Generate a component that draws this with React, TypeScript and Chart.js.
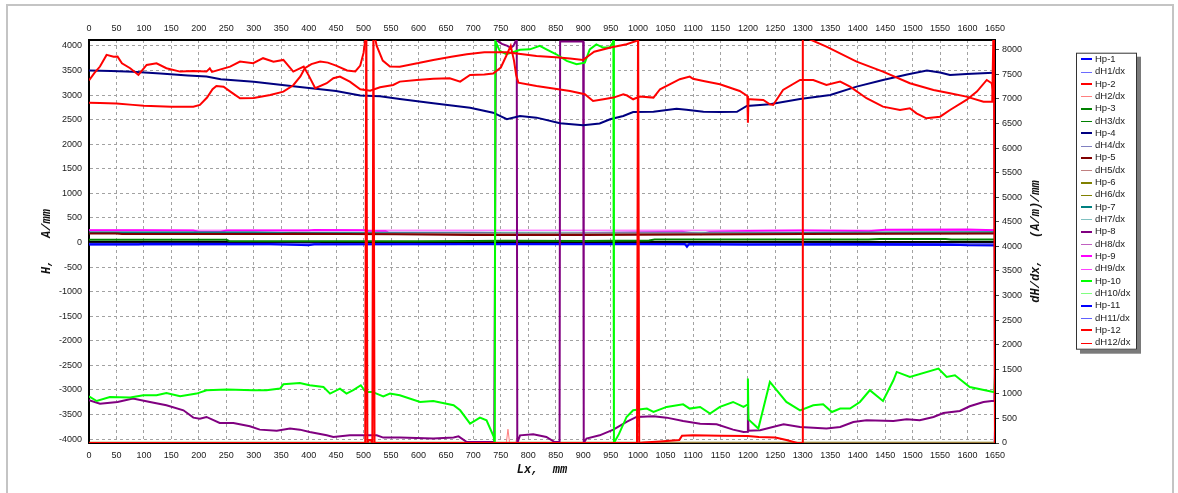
import React, { useEffect, useRef } from 'react';
import { Chart, registerables } from 'chart.js';

Chart.register(...registerables);

type P = [number, number][];

// ---- tick labels ----
const X_TICKS = [0, 50, 100, 150, 200, 250, 300, 350, 400, 450, 500, 550, 600, 650, 700, 750, 800, 850, 900, 950, 1000, 1050, 1100, 1150, 1200, 1250, 1300, 1350, 1400, 1450, 1500, 1550, 1600, 1650];
const H_TICKS = [-4000, -3500, -3000, -2500, -2000, -1500, -1000, -500, 0, 500, 1000, 1500, 2000, 2500, 3000, 3500, 4000];
const DH_TICKS = [0, 500, 1000, 1500, 2000, 2500, 3000, 3500, 4000, 4500, 5000, 5500, 6000, 6500, 7000, 7500, 8000];

const X_TITLE = 'Lx,  mm';
const H_TITLE = 'H,   A/mm';
const DH_TITLE = 'dH/dx,   (A/m)/mm';

// ---- series values [Lx mm, value] ----
const hp1: P = [[0, -35], [90, -35], [100, -25], [330, -30], [400, -55], [410, -35], [700, -30], [1085, -30], [1089, -90], [1093, -30], [1200, -40], [1400, -30], [1560, -40], [1600, -55], [1650, -60]];
const dh1: P = [[0, 4062], [420, 4062], [430, 4050], [800, 4060], [1650, 4060]];
const hp2: P = [[0, 3300], [10, 3450], [20, 3580], [32, 3817], [45, 3780], [52, 3782], [60, 3647], [75, 3546], [90, 3409], [105, 3613], [123, 3647], [141, 3546], [166, 3477], [190, 3490], [214, 3477], [220, 3545], [224, 3470], [257, 3579], [275, 3680], [299, 3647], [317, 3750], [336, 3680], [354, 3715], [372, 3477], [391, 3580], [400, 3400], [412, 3138], [433, 3240], [445, 3342], [457, 3375], [475, 3273], [494, 3118], [512, 3090], [530, 3159], [554, 3205], [566, 3273], [597, 3306], [627, 3330], [657, 3342], [676, 3273], [694, 3409], [720, 3420], [736, 3440], [750, 3560], [760, 3800], [768, 4000], [774, 3700], [778, 3400], [782, 3253], [815, 3185], [876, 3083], [903, 3016], [918, 2880], [937, 2914], [955, 2948], [973, 3016], [980, 2990], [991, 2914], [1003, 2968], [1028, 2948], [1040, 3118], [1076, 3322], [1094, 3375], [1100, 3330], [1119, 3287], [1149, 3220], [1185, 3083], [1199, 2981], [1200, 2438], [1201, 2914], [1204, 2914], [1228, 2900], [1240, 2812], [1246, 2798], [1264, 3104], [1295, 3307], [1319, 3307], [1343, 3206], [1368, 3273], [1386, 3171], [1416, 2935], [1446, 2764], [1477, 2696], [1495, 2731], [1507, 2629], [1525, 2527], [1550, 2560], [1568, 2696], [1598, 2900], [1617, 3069], [1635, 3307], [1644, 3240], [1650, 2850]];
const dh2: P = [[0, 0], [760, 0], [763, 280], [766, 0], [777, 0], [779, 100], [781, 0], [1650, 0]];
const hp3: P = [[0, 55], [250, 55], [255, 30], [600, 25], [700, 30], [760, 35], [900, 30], [1020, 40], [1030, 60], [1420, 60], [1440, 70], [1560, 70], [1570, 60], [1650, 60]];
const dh3: P = [[0, 0], [1650, 0]];
const hp4: P = [[0, 3500], [40, 3490], [80, 3476], [130, 3440], [180, 3400], [214, 3375], [240, 3320], [300, 3270], [384, 3165], [450, 3080], [494, 2990], [530, 2975], [566, 2920], [627, 2833], [694, 2743], [736, 2641], [761, 2507], [785, 2574], [815, 2540], [858, 2425], [900, 2385], [930, 2420], [949, 2507], [973, 2574], [991, 2655], [1028, 2660], [1070, 2723], [1088, 2700], [1119, 2660], [1149, 2655], [1180, 2660], [1198, 2778], [1240, 2812], [1295, 2920], [1350, 3002], [1398, 3171], [1446, 3307], [1490, 3420], [1526, 3497], [1550, 3460], [1568, 3409], [1598, 3430], [1647, 3456], [1649, 3456], [1650, -4080]];
const dh4: P = [[0, 4048], [1650, 4048]];
const hp5: P = [[0, 185], [50, 185], [60, 175], [350, 175], [370, 180], [560, 165], [700, 150], [900, 150], [1100, 160], [1300, 175], [1650, 185]];
const dh5: P = [[0, 4262], [1650, 4270]];
const hp6: P = [[0, -4075], [1650, -4075]];
const dh6: P = [[0, 4046], [1650, 4046]];
const hp7: P = [[0, 205], [300, 205], [350, 195], [550, 190], [750, 185], [900, 180], [1100, 185], [1300, 195], [1500, 205], [1650, 210]];
const dh7: P = [[0, 4290], [1650, 4290]];
const hp8: P = [[0, -3211], [20, -3279], [52, -3245], [80, -3177], [111, -3245], [141, -3313], [172, -3415], [190, -3564], [202, -3584], [214, -3550], [238, -3673], [263, -3673], [293, -3740], [311, -3808], [342, -3830], [366, -3787], [384, -3808], [402, -3856], [433, -3924], [445, -3958], [475, -3924], [524, -3924], [536, -3970], [566, -3970], [627, -3990], [664, -3970], [673, -3945], [688, -4060], [738, -4060], [741, 4120], [752, 4040], [762, 4000], [768, 3960], [773, 4000], [777, 4100], [779, 4120], [780, -4080], [785, -3924], [809, -3903], [833, -3958], [848, -4060], [857, -4060], [858, 4090], [900, 4090], [901, -4080], [906, -3990], [930, -3924], [955, -3808], [979, -3652], [997, -3550], [1028, -3537], [1052, -3564], [1082, -3632], [1113, -3686], [1143, -3700], [1173, -3808], [1192, -3856], [1199, -3850], [1200, -3350], [1201, -3830], [1222, -3822], [1265, -3700], [1295, -3755], [1343, -3787], [1368, -3755], [1392, -3652], [1416, -3618], [1465, -3632], [1489, -3598], [1513, -3618], [1538, -3550], [1556, -3470], [1586, -3429], [1604, -3333], [1629, -3245], [1644, -3225], [1649, -3225], [1650, -2650]];
const dh8: P = [[0, 0], [1648, 0], [1650, 500]];
const hp9: P = [[0, 250], [100, 250], [190, 245], [200, 215], [240, 215], [250, 245], [400, 245], [410, 255], [505, 250], [510, 230], [540, 230], [545, 205], [700, 200], [740, 195], [745, 175], [800, 170], [850, 175], [900, 190], [950, 200], [1000, 210], [1080, 220], [1100, 190], [1115, 170], [1130, 215], [1200, 235], [1300, 245], [1400, 235], [1420, 230], [1450, 260], [1600, 265], [1650, 250]];
const dh9: P = [[0, 4330], [1650, 4330]];
const hp10: P = [[0, -3130], [14, -3225], [38, -3144], [75, -3156], [99, -3110], [123, -3110], [141, -3062], [166, -3130], [196, -3075], [214, -3007], [251, -2993], [299, -3007], [323, -3007], [348, -2973], [354, -2885], [384, -2858], [402, -2905], [427, -2940], [439, -3075], [457, -2973], [469, -3075], [482, -3000], [495, -2905], [504, -3041], [516, -3041], [536, -3130], [548, -3075], [566, -3110], [603, -3245], [627, -3225], [664, -3313], [676, -3415], [694, -3686], [712, -3564], [724, -3618], [737, -3950], [739, -4080], [740, 4100], [748, 3900], [760, 3830], [772, 3870], [785, 3920], [803, 3930], [821, 4000], [833, 3930], [851, 3830], [870, 3695], [888, 3627], [903, 3660], [912, 3930], [924, 4030], [936, 3966], [948, 3966], [954, 4070], [955, 4120], [956, -4080], [965, -3900], [979, -3550], [991, -3415], [1016, -3380], [1028, -3448], [1052, -3346], [1082, -3293], [1094, -3380], [1113, -3346], [1131, -3482], [1149, -3346], [1173, -3245], [1192, -3346], [1199, -3300], [1200, -2770], [1201, -3600], [1219, -3787], [1240, -2837], [1270, -3245], [1295, -3415], [1319, -3313], [1337, -3293], [1353, -3450], [1368, -3380], [1386, -3380], [1404, -3245], [1422, -3007], [1446, -3225], [1465, -2804], [1471, -2634], [1495, -2736], [1547, -2566], [1562, -2736], [1577, -2702], [1604, -2940], [1647, -3041], [1649, -3041], [1650, -2750]];
const dh10: P = [[0, 0], [1650, 0]];
const hp11: P = [[0, -40], [500, -35], [1000, -35], [1650, -50]];
const dh11: P = [[0, 4042], [1650, 4040]];
const hp12: P = [[0, 2845], [20, 2840], [50, 2830], [80, 2800], [100, 2780], [150, 2760], [190, 2764], [202, 2800], [215, 2950], [225, 3120], [232, 3185], [245, 3170], [260, 3050], [275, 2935], [300, 2940], [330, 3000], [354, 3069], [372, 3200], [385, 3380], [393, 3546], [405, 3630], [421, 3680], [435, 3660], [450, 3600], [470, 3500], [485, 3480], [494, 3600], [500, 3857], [504, 4200], [520, 4200], [524, 4000], [535, 3700], [548, 3580], [566, 3578], [600, 3650], [627, 3715], [660, 3780], [688, 3830], [720, 3870], [760, 3870], [790, 3830], [815, 3796], [850, 3770], [876, 3742], [900, 3715], [910, 3800], [920, 3880], [950, 3966], [979, 4034], [997, 4100], [1003, 4200]];
const dh12: P = [[0, 0], [503, 0], [505, 9000], [507, 0], [510, 60], [513, 60], [516, 0], [518, 9000], [520, 0], [998, 0], [1000, 9000], [1002, 0], [1010, 10], [1040, 30], [1075, 60], [1080, 150], [1100, 160], [1150, 150], [1200, 140], [1220, 120], [1250, 110], [1270, 60], [1290, 0], [1299, 0], [1300, 9000], [1305, 8250], [1343, 8066], [1398, 7760], [1446, 7557], [1495, 7320], [1538, 7184], [1568, 7117], [1598, 7048], [1629, 6946], [1645, 6946], [1648, 9000], [1650, 0]];

// ---- dataset table (label, colour, data, axis, width, order) ----
const SERIES: [string, string, P, string, number, number][] = [
  ['Hp-1', '#0000ff', hp1, 'y', 2, 0],
  ['dH1/dx', '#6b6bff', dh1, 'y2', 1, 0],
  ['Hp-2', '#ff0000', hp2, 'y', 2, -2],
  ['dH2/dx', '#ff7f7f', dh2, 'y2', 1, 0],
  ['Hp-3', '#008000', hp3, 'y', 2, 0],
  ['dH3/dx', '#008000', dh3, 'y2', 1, 0],
  ['Hp-4', '#000080', hp4, 'y', 2, -1],
  ['dH4/dx', '#8080c0', dh4, 'y2', 1, 0],
  ['Hp-5', '#800000', hp5, 'y', 2, 0],
  ['dH5/dx', '#c08080', dh5, 'y2', 1, 0],
  ['Hp-6', '#808000', hp6, 'y', 2, 0],
  ['dH6/dx', '#808000', dh6, 'y2', 1, 0],
  ['Hp-7', '#008080', hp7, 'y', 2, 0],
  ['dH7/dx', '#80c0c0', dh7, 'y2', 1, 0],
  ['Hp-8', '#800080', hp8, 'y', 2, -1],
  ['dH8/dx', '#c060c0', dh8, 'y2', 1, 0],
  ['Hp-9', '#ff00ff', hp9, 'y', 2, 0],
  ['dH9/dx', '#ff40ff', dh9, 'y2', 1, 0],
  ['Hp-10', '#00ff00', hp10, 'y', 2, -1.5],
  ['dH10/dx', '#80ff80', dh10, 'y2', 1, 0],
  ['Hp-11', '#0000ff', hp11, 'y', 2, 0],
  ['dH11/dx', '#6060ff', dh11, 'y2', 1, 0],
  ['Hp-12', '#ff0000', hp12, 'y', 2, -2],
  ['dH12/dx', '#ff0000', dh12, 'y2', 2, -3],
];

// canvas sits at page (8,6)
const OX = 8;
const OY = 6;
const TICK_FONT = { family: '"Liberation Sans", Arial, sans-serif', size: 9 };
const TITLE_FONT = { family: '"Liberation Mono", "Courier New", monospace', size: 12, weight: 'bold' as const, style: 'italic' as const };
const GRID_GREY = '#a2a2a2';
const GRID_DASH = [3, 3];

const setTicks = (arr: number[]) => (s: any) => {
  s.ticks = arr.map((v) => ({ value: v }));
};

const overlay = {
  id: 'overlay',
  afterDraw(chart: any) {
    const ctx: CanvasRenderingContext2D = chart.ctx;
    const a = chart.chartArea;
    // right axis title (reads bottom-to-top)
    ctx.save();
    ctx.translate(1036 - OX, (a.top + a.bottom) / 2);
    ctx.rotate(-Math.PI / 2);
    ctx.font = 'italic bold 12px "Liberation Mono", "Courier New", monospace';
    ctx.fillStyle = '#111';
    ctx.textAlign = 'center';
    ctx.textBaseline = 'middle';
    ctx.fillText(DH_TITLE, 0, 0);
    ctx.restore();

    // legend box
    const bx = 1076 - OX;
    const by = 52.7 - OY;
    const bw = 61;
    const bh = 297;
    ctx.save();
    ctx.fillStyle = '#7a7a7a';
    ctx.fillRect(bx + 4, by + 4, bw, bh);
    ctx.fillStyle = '#ffffff';
    ctx.fillRect(bx, by, bw, bh);
    ctx.strokeStyle = '#333';
    ctx.lineWidth = 1;
    ctx.strokeRect(bx + 0.5, by + 0.5, bw - 1, bh - 1);
    ctx.font = '9.5px "Liberation Sans", Arial, sans-serif';
    ctx.textAlign = 'left';
    ctx.textBaseline = 'middle';
    chart.data.datasets.forEach((ds: any, i: number) => {
      const cy = 59.3 - OY + i * 12.32;
      ctx.strokeStyle = ds.borderColor;
      ctx.lineWidth = ds.label.startsWith('Hp') ? 2 : 1;
      ctx.beginPath();
      ctx.moveTo(1081 - OX, Math.round(cy) + (ctx.lineWidth === 1 ? 0.5 : 0));
      ctx.lineTo(1092 - OX, Math.round(cy) + (ctx.lineWidth === 1 ? 0.5 : 0));
      ctx.stroke();
      ctx.fillStyle = '#1a1a1a';
      ctx.fillText(ds.label, 1095 - OX, cy);
    });
    ctx.restore();
  },
};

export default function App() {
  const ref = useRef<HTMLCanvasElement>(null);
  useEffect(() => {
    const datasets = SERIES.map(([label, color, data, axis, width, order]) => ({
      label,
      data,
      borderColor: color,
      backgroundColor: color,
      borderWidth: width,
      pointRadius: 0,
      tension: 0,
      fill: false,
      yAxisID: axis,
      xAxisID: 'x',
      order,
    }));
    const chart = new Chart(ref.current as HTMLCanvasElement, {
      type: 'line',
      data: { datasets: datasets as any },
      plugins: [overlay],
      options: {
        responsive: false,
        animation: false,
        devicePixelRatio: 1,
        layout: { padding: { left: 0, top: 0, right: 115, bottom: 0 } },
        plugins: { legend: { display: false }, tooltip: { enabled: false } },
        scales: {
          x: {
            type: 'linear',
            position: 'bottom',
            min: 0,
            max: 1650,
            afterBuildTicks: setTicks(X_TICKS),
            afterFit: (s: any) => { s.height = 50; },
            ticks: { font: TICK_FONT, color: '#1a1a1a', padding: 7, maxRotation: 0, autoSkip: false, callback: (v: any) => String(v) },
            grid: { color: GRID_GREY, lineWidth: 1, drawTicks: false },
            border: { color: '#000', width: 2, dash: GRID_DASH },
            title: { display: true, text: X_TITLE, font: TITLE_FONT, color: '#111', padding: { top: 0, bottom: 15.8 } },
          },
          x2: {
            type: 'linear',
            position: 'top',
            min: 0,
            max: 1650,
            afterBuildTicks: setTicks(X_TICKS),
            afterFit: (s: any) => { s.height = 34; },
            ticks: { font: TICK_FONT, color: '#1a1a1a', padding: 6, maxRotation: 0, autoSkip: false, callback: (v: any) => String(v) },
            grid: { drawOnChartArea: false, drawTicks: false },
            border: { color: '#000', width: 2 },
          },
          y: {
            type: 'linear',
            position: 'left',
            min: -4080,
            max: 4120,
            afterBuildTicks: setTicks(H_TICKS),
            afterFit: (s: any) => { s.width = 81; },
            ticks: { font: TICK_FONT, color: '#1a1a1a', padding: 7, autoSkip: false, callback: (v: any) => String(v) },
            grid: {
              drawTicks: false,
              color: (c: any) => (c.tick && c.tick.value === 0 ? '#000' : GRID_GREY),
              lineWidth: (c: any) => (c.tick && c.tick.value === 0 ? 2 : 1),
            },
            border: { color: '#000', width: 2, dash: (c: any) => (c.tick && c.tick.value === 0 ? [] : GRID_DASH) },
            title: { display: true, text: H_TITLE, font: TITLE_FONT, color: '#111', padding: { top: 31.8, bottom: 0 } },
          },
          y2: {
            type: 'linear',
            position: 'right',
            min: 0,
            max: 8200,
            afterBuildTicks: setTicks(DH_TICKS),
            afterFit: (s: any) => { s.width = 60; },
            ticks: { font: TICK_FONT, color: '#1a1a1a', padding: 3, autoSkip: false, callback: (v: any) => String(v) },
            grid: { drawOnChartArea: false, drawTicks: true, tickLength: 4, color: '#444' },
            border: { color: '#000', width: 2 },
          },
        },
      } as any,
    });
    return () => chart.destroy();
  }, []);

  return (
    <div
      style={{
        position: 'fixed',
        left: 6,
        top: 4,
        width: 1168,
        height: 520,
        border: '2px solid #c4c4c4',
        boxSizing: 'border-box',
        background: '#fff',
      }}
    >
      <canvas ref={ref} width={1162} height={487} style={{ position: 'absolute', left: 0, top: 0, width: 1162, height: 487 }} />
    </div>
  );
}
